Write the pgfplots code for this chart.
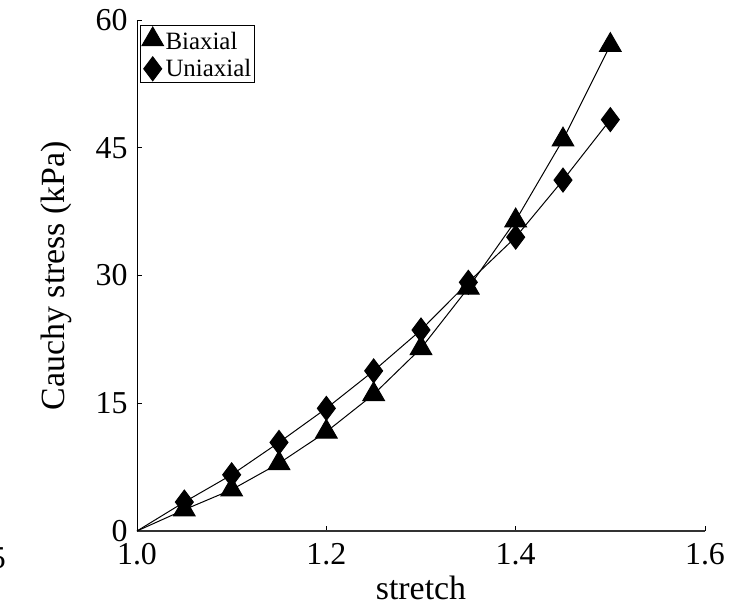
\documentclass[border=0pt]{standalone}
\usepackage{fontspec}
\setmainfont{Liberation Serif}
\usepackage{pgfplots}
\pgfplotsset{compat=1.18}
\begin{document}
\begin{tikzpicture}
\begin{axis}[
  scale only axis,
  width=568bp, height=511bp,
  xmin=1, xmax=1.6, ymin=0, ymax=60,
  axis x line*=bottom, axis y line*=left,
  x axis line style={line width=1.5pt, draw=black!80, -},
  y axis line style={line width=0.9pt, -},
  xtick={1.0,1.2,1.4,1.6},
  xticklabels={1.0,1.2,1.4,1.6},
  ytick={0,15,30,45,60},
  tick align=inside,
  major tick length=5bp,
  tick style={black, line width=0.8pt},
  /pgf/number format/assume math mode=true,
  tick label style={font=\fontsize{32}{38}\selectfont},
  xticklabel style={yshift=-9bp},
  yticklabel style={xshift=-6bp},
  label style={font=\fontsize{34}{40}\selectfont},
  xlabel={stretch},
  ylabel={Cauchy stress (kPa)},
  xlabel style={at={(axis description cs:0.5,-0.1115)}, anchor=center},
  ylabel style={at={(axis description cs:-0.1426,0.5)}, anchor=center},
  clip=false,
  legend cell align=left,
  legend style={at={(axis description cs:0.0053,0.990)}, anchor=north west,
    draw=black, line width=0.9pt, inner sep=1.5pt, row sep=4pt,
    font=\fontsize{25}{28}\selectfont,
    /tikz/every even column/.append style={column sep=0pt}},
]
\addplot[black, line width=1pt, mark=triangle*, mark size=12.5pt, mark phase=2, mark options={solid, fill=black},
  legend image code/.code={\draw[fill=black, mark phase=1, mark=triangle*, mark size=12.5pt] plot coordinates {(0.4cm,0.07cm)};}]
coordinates {
(1.00,0) (1.05,2.5) (1.10,4.85) (1.15,7.95) (1.20,11.65) (1.25,16.05)
(1.30,21.45) (1.35,28.55) (1.40,36.45) (1.45,45.95) (1.50,57.05)
};
\addlegendentry{Biaxial}
\addplot[black, line width=1pt, mark=diamond*, mark size=12pt, mark phase=2, mark options={solid, fill=black},
  legend image code/.code={\draw[fill=black, mark phase=1, mark=diamond*, mark size=12pt] plot coordinates {(0.4cm,0cm)};}]
coordinates {
(1.00,0) (1.05,3.4) (1.10,6.6) (1.15,10.4) (1.20,14.4) (1.25,18.8)
(1.30,23.6) (1.35,29.2) (1.40,34.5) (1.45,41.2) (1.50,48.3)
};
\addlegendentry{Uniaxial}
\end{axis}
\node[anchor=base east, font=\fontsize{32}{38}\selectfont, inner sep=0pt] at ([shift={(-131bp,-37bp)}]current axis.south west) {5};
\pgfresetboundingbox
\path[use as bounding box] ([shift={(-137bp,-81bp)}]current axis.south west) rectangle ([shift={(24bp,20bp)}]current axis.north east);
\end{tikzpicture}
\end{document}
